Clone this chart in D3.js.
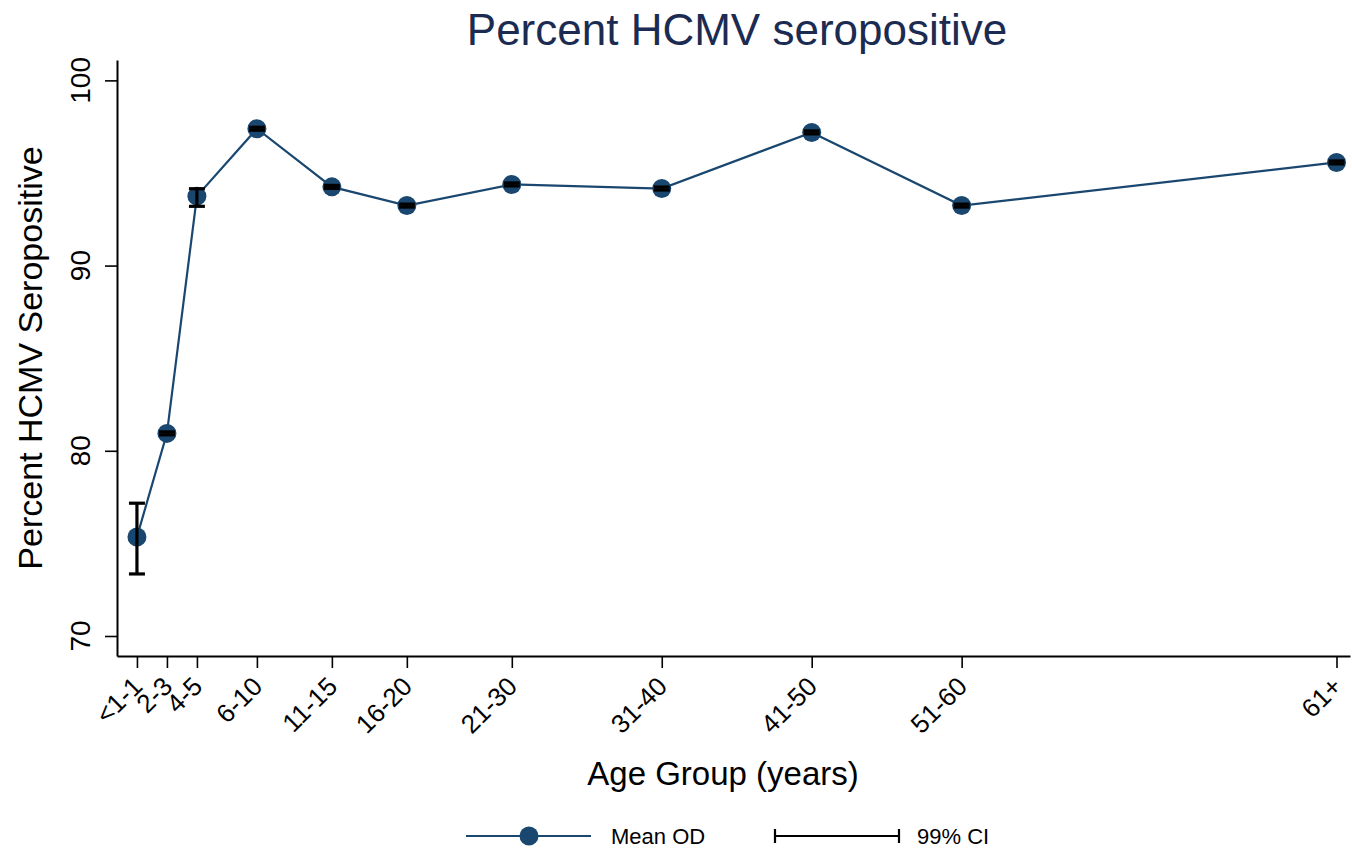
<!DOCTYPE html>
<html>
<head>
<meta charset="utf-8">
<script src="https://cdn.jsdelivr.net/npm/d3@7"></script>
<style>
  html, body { margin: 0; padding: 0; background: #ffffff; }
  svg { display: block; font-family: "Liberation Sans", Arial, Helvetica, sans-serif; }
</style>
</head>
<body>
<svg id="chart" width="1352" height="851"></svg>
<script>
// ---- data ----
const ageGroups = ["<1-1", "2-3", "4-5", "6-10", "11-15", "16-20", "21-30", "31-40", "41-50", "51-60", "61+"];
const agePositions = [1, 3, 5, 9, 14, 19, 26, 36, 46, 56, 81];
const percentSeropositive = [75.35, 80.94, 93.75, 97.39, 94.25, 93.24, 94.38, 94.16, 97.19, 93.24, 95.57];
const ciLower = [73.35, 80.86, 93.2, 97.31, 94.17, 93.16, 94.30, 94.08, 97.11, 93.16, 95.49];
const ciUpper = [77.17, 81.02, 94.15, 97.47, 94.33, 93.32, 94.46, 94.24, 97.27, 93.32, 95.65];
const yTicks = [70, 80, 90, 100];
const titleText = "Percent HCMV seropositive";
const xTitle = "Age Group (years)";
const yTitle = "Percent HCMV Seropositive";
const legendLabels = ["Mean OD", "99% CI"];

const data = ageGroups.map((g, i) => ({
  group: g, pos: agePositions[i], value: percentSeropositive[i], lo: ciLower[i], hi: ciUpper[i]
}));

const navy = "#1a476f";
const svg = d3.select("#chart");

const x = d3.scaleLinear().domain([-0.33, 81.9]).range([117, 1350]);
const y = d3.scaleLinear().domain([68.92, 101.1]).range([656, 60]);

// title
svg.append("text")
  .attr("x", 737).attr("y", 45)
  .attr("text-anchor", "middle")
  .attr("font-size", 44)
  .attr("fill", "#1c2b52")
  .text(titleText);

// y axis
const yAxis = svg.append("g").attr("transform", `translate(${x.range()[0]},0)`)
  .call(d3.axisLeft(y).tickValues(yTicks).tickSize(12).tickSizeOuter(0).tickFormat(""));
yAxis.select(".domain").attr("stroke", "#000").attr("stroke-width", 2);
yAxis.selectAll(".tick line").attr("stroke", "#000").attr("stroke-width", 1.6);

svg.append("g").selectAll("text").data(yTicks).join("text")
  .attr("transform", d => `translate(90,${y(d)}) rotate(-90)`)
  .attr("text-anchor", "middle")
  .attr("font-size", 28)
  .attr("fill", "#000")
  .text(d => d);

// x axis
const xAxis = svg.append("g").attr("transform", `translate(0,${y.range()[0]})`)
  .call(d3.axisBottom(x).tickValues(agePositions).tickSize(12).tickSizeOuter(0).tickFormat(""));
xAxis.select(".domain").attr("stroke", "#000").attr("stroke-width", 2);
xAxis.selectAll(".tick line").attr("stroke", "#000").attr("stroke-width", 1.6);

svg.append("g").selectAll("text").data(data).join("text")
  .attr("transform", d => `translate(${x(d.pos) + 7},${y.range()[0] + 32}) rotate(-45)`)
  .attr("text-anchor", "end")
  .attr("font-size", 26)
  .attr("fill", "#000")
  .text(d => d.group);

// axis titles
svg.append("text")
  .attr("x", 723).attr("y", 785)
  .attr("text-anchor", "middle")
  .attr("font-size", 33)
  .attr("fill", "#000")
  .text(xTitle);

svg.append("text")
  .attr("transform", `translate(42,${(60 + 656) / 2}) rotate(-90)`)
  .attr("text-anchor", "middle")
  .attr("font-size", 34)
  .attr("fill", "#000")
  .text(yTitle);

// line
svg.append("path")
  .datum(data)
  .attr("fill", "none")
  .attr("stroke", navy)
  .attr("stroke-width", 2.2)
  .attr("d", d3.line().x(d => x(d.pos)).y(d => y(d.value)));

// markers
svg.append("g").selectAll("circle").data(data).join("circle")
  .attr("cx", d => x(d.pos)).attr("cy", d => y(d.value))
  .attr("r", 9.5)
  .attr("fill", navy);

// error bars
const capW = 8;
const eb = svg.append("g").attr("stroke", "#000").attr("stroke-width", 3.2);
eb.selectAll("line.v").data(data).join("line").attr("class", "v")
  .attr("x1", d => x(d.pos)).attr("x2", d => x(d.pos))
  .attr("y1", d => y(d.lo)).attr("y2", d => y(d.hi));
eb.selectAll("line.lo").data(data).join("line").attr("class", "lo")
  .attr("x1", d => x(d.pos) - capW).attr("x2", d => x(d.pos) + capW)
  .attr("y1", d => y(d.lo)).attr("y2", d => y(d.lo));
eb.selectAll("line.hi").data(data).join("line").attr("class", "hi")
  .attr("x1", d => x(d.pos) - capW).attr("x2", d => x(d.pos) + capW)
  .attr("y1", d => y(d.hi)).attr("y2", d => y(d.hi));

// legend
const ly = 836;
const leg = svg.append("g");
leg.append("line").attr("x1", 466).attr("x2", 591).attr("y1", ly).attr("y2", ly)
  .attr("stroke", navy).attr("stroke-width", 2.2);
leg.append("circle").attr("cx", 529).attr("cy", ly).attr("r", 9.5).attr("fill", navy);
leg.append("text").attr("x", 611).attr("y", ly + 8).attr("font-size", 22).attr("fill", "#000").text(legendLabels[0]);
leg.append("line").attr("x1", 775).attr("x2", 899).attr("y1", ly).attr("y2", ly)
  .attr("stroke", "#000").attr("stroke-width", 2.2);
leg.append("line").attr("x1", 775).attr("x2", 775).attr("y1", ly - 7).attr("y2", ly + 7)
  .attr("stroke", "#000").attr("stroke-width", 2.2);
leg.append("line").attr("x1", 899).attr("x2", 899).attr("y1", ly - 7).attr("y2", ly + 7)
  .attr("stroke", "#000").attr("stroke-width", 2.2);
leg.append("text").attr("x", 917).attr("y", ly + 8).attr("font-size", 22).attr("fill", "#000").text(legendLabels[1]);
</script>
</body>
</html>
